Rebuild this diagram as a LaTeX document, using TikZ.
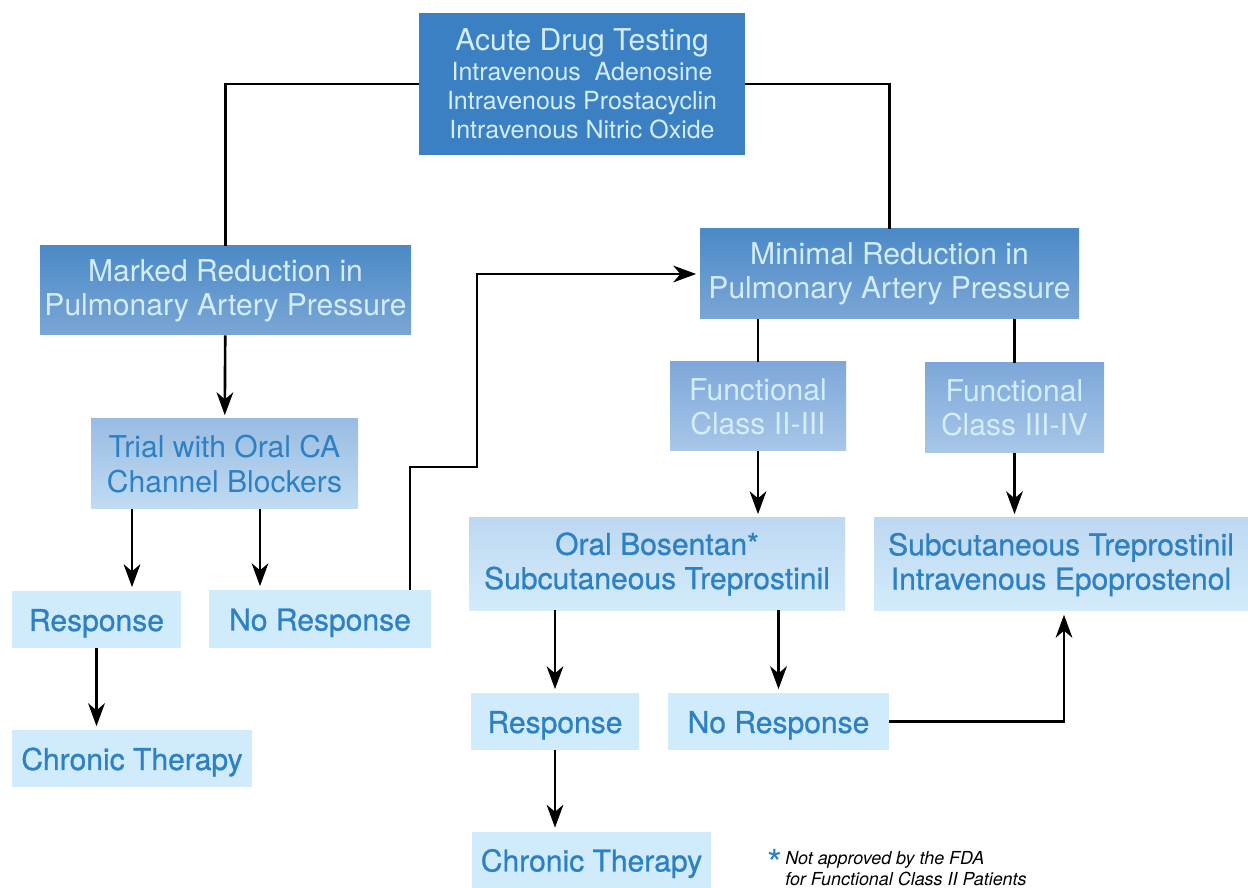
\documentclass[tikz,border=0pt]{standalone}
\usepackage{fontspec}
\setmainfont{TeX Gyre Heros}
\newfontfamily\medfont[FakeBold=0.8]{TeX Gyre Heros}
\usepackage{xcolor}
\usetikzlibrary{arrows.meta,positioning,shadings}

\definecolor{topblue}{HTML}{3A80C3}
\definecolor{midtop}{HTML}{4B8AC7}
\definecolor{midbot}{HTML}{7BA6D6}
\definecolor{fctop}{HTML}{7DA7D9}
\definecolor{fcbot}{HTML}{A8C7E9}
\definecolor{trialtop}{HTML}{9ABCE2}
\definecolor{trialbot}{HTML}{C0DCF3}
\definecolor{drugtop}{HTML}{BDD8F1}
\definecolor{drugbot}{HTML}{D3EBFB}
\definecolor{leaf}{HTML}{D0EBFB}
\definecolor{lighttext}{HTML}{D4EDFC}
\definecolor{bluetext}{HTML}{2D80C4}

\begin{document}
\begin{tikzpicture}[
  box/.style={rectangle,inner sep=0pt,align=center,
              font=\fontsize{17.1}{19.5}\selectfont,
              execute at begin node={\rule{0pt}{#1}}},
  box/.default=16.8pt,
  headbox/.style={box=16pt,fill=topblue,text=lighttext,
              font=\fontsize{14.2}{16.5}\selectfont,
              minimum width=6.52cm,minimum height=2.84cm},
  redbox/.style={box,top color=midtop,bottom color=midbot,text=lighttext},
  fcbox/.style={box=13.5pt,top color=fctop,bottom color=fcbot,text=lighttext},
  trialbox/.style={box=13.5pt,top color=trialtop,bottom color=trialbot,text=bluetext},
  drugbox/.style={box,top color=drugtop,bottom color=drugbot,text=bluetext,
              font=\fontsize{17.1}{19.5}\medfont},
  leafbox/.style={box,fill=leaf,text=bluetext,minimum height=1.14cm,
              font=\fontsize{17.1}{19.5}\medfont},
  ln/.style={line width=1.5pt},
  arr/.style={ln,-{Stealth[length=13pt,width=9.5pt,inset=4pt]},shorten >=2pt}
]
\useasboundingbox (0,0) rectangle (24.96,-17.76);

% top of the tree
\node[headbox] (acute) at (11.64,-1.68)
  {{\fontsize{17.1}{17}\selectfont Acute Drug Testing}\\[0.5pt]
   Intravenous\ \ Adenosine\\
   Intravenous Prostacyclin\\
   Intravenous Nitric Oxide};

% left branch
\node[redbox,minimum width=7.42cm,minimum height=1.78cm] (marked) at (4.51,-5.81)
  {Marked Reduction in\\Pulmonary Artery Pressure};
\node[trialbox,minimum width=5.34cm,minimum height=1.8cm] (trial) at (4.49,-9.28)
  {Trial with Oral CA\\Channel Blockers};
\node[leafbox,minimum width=3.38cm] (resp1) at (1.93,-12.39) {Response};
\node[leafbox,minimum width=4.44cm,minimum height=1.16cm] (noresp1) at (6.40,-12.38) {No Response};
\node[leafbox,minimum width=4.80cm] (chron1) at (2.64,-15.17) {Chronic Therapy};

% right branch
\node[redbox,minimum width=7.58cm,minimum height=1.8cm] (minimal) at (17.79,-5.48)
  {Minimal Reduction in\\Pulmonary Artery Pressure};
\node[fcbox,minimum width=3.52cm,minimum height=1.78cm] (fc23) at (15.16,-8.13)
  {Functional\\Class II-III};
\node[fcbox,minimum width=3.58cm,minimum height=1.8cm] (fc34) at (20.29,-8.16)
  {Functional\\Class III-IV};
\node[drugbox,minimum width=7.52cm,minimum height=1.84cm] (bosentan) at (13.14,-11.28)
  {Oral Bosentan*\\Subcutaneous Treprostinil};
\node[drugbox,minimum width=7.48cm,minimum height=1.86cm] (epo) at (21.22,-11.29)
  {Subcutaneous Treprostinil\\Intravenous Epoprostenol};
\node[leafbox,minimum width=3.36cm] (resp2) at (11.10,-14.43) {Response};
\node[leafbox,minimum width=4.42cm] (noresp2) at (15.57,-14.43) {No Response};
\node[leafbox,minimum width=4.78cm] (chron2) at (11.83,-17.20) {Chronic Therapy};

% footnote
\node[text=bluetext,inner sep=0pt,font=\fontsize{22}{22}\selectfont] (star) at (15.51,-17.27) {*};
\node[anchor=base west,align=left,inner sep=0pt,font=\fontsize{10.2}{11.4}\selectfont\itshape] (note)
  at (15.70,-17.70) {Not approved by the FDA\\for Functional Class II Patients};

\coordinate (jog) at (9.54,-9.34);

\draw[ln] (acute.west) -| (marked.north);
\draw[ln] (acute.east) -| (minimal.north);
\draw[arr] (marked) -- (trial);
\draw[arr] ([xshift=-1.85cm]trial.south) -- ([xshift=-1.85cm]trial.south |- resp1.north);
\draw[arr] ([xshift=0.71cm]trial.south) -- ([xshift=0.71cm]trial.south |- noresp1.north);
\draw[arr] (resp1) -- (chron1.north -| resp1.south);
\draw[arr] ([xshift=1.8cm]noresp1.north) |- (jog) |- (minimal.west);
\draw[ln] (fc23.north |- minimal.south) -- (fc23.north);
\draw[ln] (fc34.north |- minimal.south) -- (fc34.north);
\draw[arr] (fc23.south) -- (fc23.south |- bosentan.north);
\draw[arr] (fc34.south) -- (fc34.south |- epo.north);
\draw[arr] (resp2.north |- bosentan.south) -- (resp2.north);
\draw[arr] (noresp2.north |- bosentan.south) -- (noresp2.north);
\draw[arr] (resp2.south) -- (resp2.south |- chron2.north);
\draw[arr] (noresp2.east) -| ([xshift=0.06cm]epo.south);
\end{tikzpicture}
\end{document}
